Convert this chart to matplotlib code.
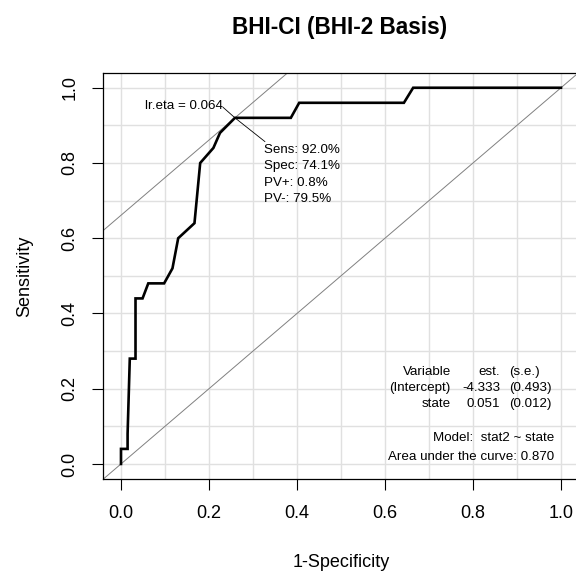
import matplotlib
matplotlib.use('Agg')
import matplotlib.pyplot as plt

plt.rcParams['font.family'] = ['Liberation Sans', 'DejaVu Sans']

# ROC curve
fpr = [0.0, 0.0, 0.015, 0.015, 0.019, 0.02, 0.033, 0.033, 0.049, 0.062, 0.098,
       0.117, 0.13, 0.167, 0.18, 0.21, 0.225, 0.259, 0.386, 0.405, 0.643, 0.664, 1.0]
sens = [0.0, 0.04, 0.04, 0.08, 0.24, 0.28, 0.28, 0.44, 0.44, 0.48, 0.48,
        0.52, 0.60, 0.64, 0.80, 0.84, 0.88, 0.92, 0.92, 0.96, 0.96, 1.0, 1.0]
opt_idx = 17

ticks = [0.0, 0.2, 0.4, 0.6, 0.8, 1.0]
tick_labels = ['0.0', '0.2', '0.4', '0.6', '0.8', '1.0']
grid_pos = [i / 10 for i in range(11)]

cut_label = 'lr.eta = 0.064'
opt_lines = ['Sens: 92.0%', 'Spec: 74.1%', 'PV+: 0.8%', 'PV-: 79.5%']
coef_names = ['Variable', '(Intercept)', 'state']
coef_est = ['est.', '-4.333', '0.051']
coef_se = ['(s.e.)', '(0.493)', '(0.012)']
model_txt = 'Model:  stat2 ~ state'
auc_txt = 'Area under the curve: 0.870'

fig = plt.figure(figsize=(5.76, 5.72), dpi=100)
ax = fig.add_axes([0.1795, 0.1626, 0.825, 0.7103])
ax.set_xlim(-0.04, 1.04)
ax.set_ylim(-0.04, 1.04)

for g in grid_pos:
    ax.axvline(g, color='#e0e0e0', lw=1.0, zorder=0)
    ax.axhline(g, color='#e0e0e0', lw=1.0, zorder=0)

ox, oy = fpr[opt_idx], sens[opt_idx]
ax.axline((0, 0), slope=1, color='#808080', lw=0.7, zorder=1)
ax.axline((ox, oy), slope=1, color='#808080', lw=0.7, zorder=1)

ax.plot(fpr, sens, color='black', lw=1.9, zorder=3, solid_joinstyle='miter')

fs = 9.6
# pointer line from the label through the optimum to the stats block
ax.plot([0.232, ox, 0.327], [0.948, oy, 0.857], color='black', lw=0.6, zorder=2)
ax.text(0.232, 0.952, cut_label, ha='right', va='center', fontsize=fs)
for i, s in enumerate(opt_lines):
    ax.text(0.325, 0.835 - i * 0.044, s, ha='left', va='center', fontsize=fs)

row_y = [0.245, 0.202, 0.16]
for i in range(3):
    ax.text(0.75, row_y[i], coef_names[i], ha='right', va='center', fontsize=fs)
    ax.text(0.862, row_y[i], coef_est[i], ha='right', va='center', fontsize=fs)
    ax.text(0.882, row_y[i], coef_se[i], ha='left', va='center', fontsize=fs)
ax.text(0.985, 0.069, model_txt, ha='right', va='center', fontsize=fs)
ax.text(0.985, 0.019, auc_txt, ha='right', va='center', fontsize=fs)

ax.set_xticks(ticks)
ax.set_xticklabels(tick_labels)
ax.set_yticks(ticks)
ax.set_yticklabels(tick_labels, rotation=90, va='center')
ax.tick_params(axis='both', length=8, width=0.8, labelsize=13, colors='black')
ax.tick_params(axis='x', pad=11)
ax.tick_params(axis='y', pad=10)
for sp in ax.spines.values():
    sp.set_linewidth(0.9)

ax.set_xlabel('1-Specificity', fontsize=13, labelpad=23)
ax.set_ylabel('Sensitivity', fontsize=13, labelpad=20)
fig.text(0.59, 0.952, 'BHI-CI (BHI-2 Basis)', ha='center', va='center',
         fontsize=16.3, fontweight='bold')

fig.savefig('out.png', dpi=100)
